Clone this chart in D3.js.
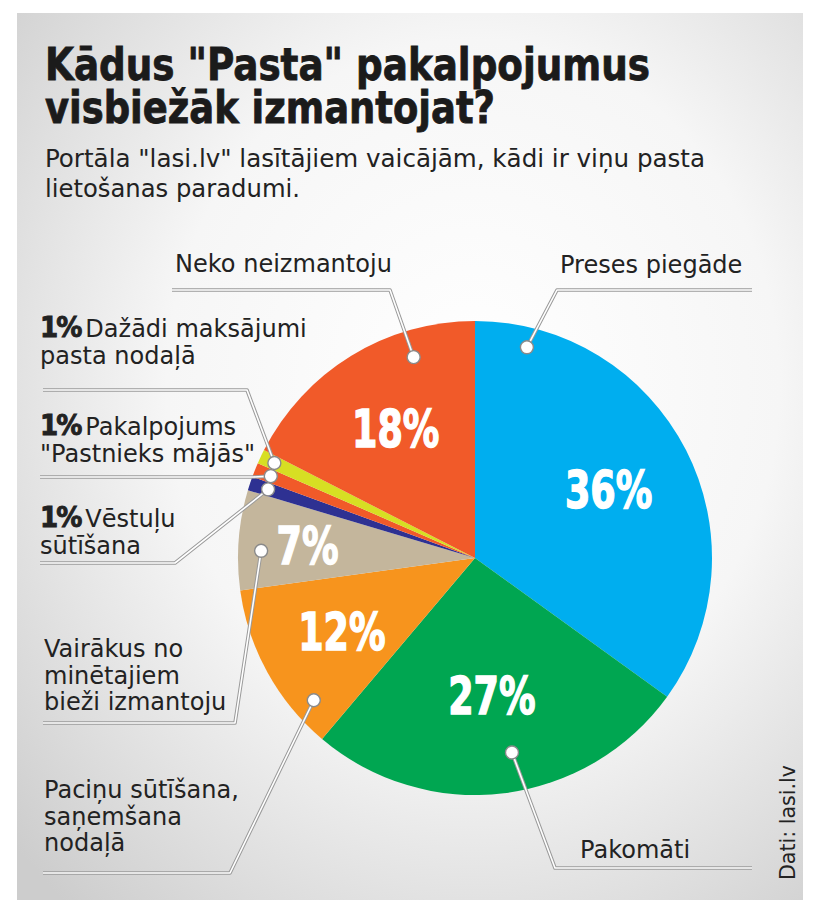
<!DOCTYPE html>
<html>
<head>
<meta charset="utf-8">
<script src="https://cdn.jsdelivr.net/npm/d3@7"></script>
<style>
  body { margin: 0; background: #fff; }
</style>
</head>
<body>
<script>
var width = 820;
var height = 913;

// data, as printed on the chart
var categories = ["Preses piegāde", "Pakomāti", "Paciņu sūtīšana, saņemšana nodaļā",
  "Vairākus no minētajiem bieži izmantoju", "Vēstuļu sūtīšana",
  "Pakalpojums \"Pastnieks mājās\"", "Dažādi maksājumi pasta nodaļā", "Neko neizmantoju"];
var values = [36, 27, 12, 7, 1, 1, 1, 18];
var labelLines = [
  ["Preses piegāde"],
  ["Pakomāti"],
  ["Paciņu sūtīšana,", "saņemšana", "nodaļā"],
  ["Vairākus no", "minētajiem", "bieži izmantoju"],
  ["Vēstuļu", "sūtīšana"],
  ["Pakalpojums", "\"Pastnieks mājās\""],
  ["Dažādi maksājumi", "pasta nodaļā"],
  ["Neko neizmantoju"]
];
var colors = ["#00aeef", "#00a651", "#f7941d", "#c4b69c", "#2e3192", "#f15a29", "#d7df23", "#f15a29"];

var title = ["Kādus \"Pasta\" pakalpojumus", "visbiežāk izmantojat?"];
var subtitle = ["Portāla \"lasi.lv\" lasītājiem vaicājām, kādi ir viņu pasta", "lietošanas paradumi."];
var source = "Dati: lasi.lv";

// layout of the callouts (where the text sits, where the leader bends)
var callouts = [
  { x: 560, y: 273, elbow: [557, 290], end: 752, at: 0.11, r: 217, lr: 150 },
  { x: 580, y: 858, elbow: [555, 868], end: 752, at: 0.46, r: 198, lr: 138 },
  { x: 44, y: 798, elbow: [230, 873], end: 43, at: 0.2, r: 215, lr: 152 },
  { x: 44, y: 657, elbow: [235, 723], end: 43, at: 0.4, r: 214, lr: 168 },
  { x: 40, y: 527, elbow: [175, 563], end: 40, at: 0.5, r: 218, lr: 0 },
  { x: 40, y: 435, elbow: [253, 477], end: 40, at: 0.5, r: 220, lr: 0 },
  { x: 40, y: 337, elbow: [247, 390], end: 43, at: 0.5, r: 222, lr: 0 },
  { x: 175, y: 272, elbow: [390, 290], end: 172, at: 0.73, r: 210, lr: 152 }
];

var cx = 475, cy = 558, radius = 237;
var condensed = "'Liberation Sans Narrow', 'DejaVu Sans Condensed', 'Arial Narrow', sans-serif";
var labelFont = "'DejaVu Sans', 'Noto Sans', sans-serif";

var svg = d3.select("body").append("svg")
  .attr("width", width).attr("height", height);

// card background
var defs = svg.append("defs");
var grad = defs.append("radialGradient").attr("id", "bg")
  .attr("cx", "58%").attr("cy", "42%").attr("r", "78%");
grad.append("stop").attr("offset", "0%").attr("stop-color", "#ffffff");
grad.append("stop").attr("offset", "50%").attr("stop-color", "#f6f6f6");
grad.append("stop").attr("offset", "100%").attr("stop-color", "#cdcdcd");

svg.append("rect")
  .attr("x", 17).attr("y", 13).attr("width", 786).attr("height", 887)
  .attr("fill", "url(#bg)");

// title and subtitle
svg.selectAll("text.title").data(title).enter().append("text")
  .attr("class", "title")
  .attr("x", 45)
  .attr("y", function (d, i) { return 80 + i * 43; })
  .attr("font-family", condensed)
  .attr("font-weight", "bold")
  .attr("font-size", 44)
  .attr("fill", "#1b1b1b")
  .attr("stroke", "#1b1b1b").attr("stroke-width", 0.8)
  .attr("textLength", function (d, i) { return i === 0 ? 605 : 450; })
  .attr("lengthAdjust", "spacingAndGlyphs")
  .text(function (d) { return d; });

svg.selectAll("text.subtitle").data(subtitle).enter().append("text")
  .attr("class", "subtitle")
  .attr("x", 45)
  .attr("y", function (d, i) { return 167 + i * 30; })
  .attr("font-family", condensed)
  .attr("font-size", 24)
  .attr("fill", "#222")
  .attr("textLength", function (d, i) { return i === 0 ? 660 : 255; })
  .attr("lengthAdjust", "spacingAndGlyphs")
  .text(function (d) { return d; });

// pie
var pie = d3.pie().sort(null).value(function (d) { return d; });
var arcs = pie(values);
var arc = d3.arc().innerRadius(0).outerRadius(radius);

var g = svg.append("g").attr("transform", "translate(" + cx + "," + cy + ")");

g.selectAll("path.slice").data(arcs).enter().append("path")
  .attr("class", "slice")
  .attr("d", arc)
  .attr("fill", function (d, i) { return colors[i]; });

// percentages inside the big slices
g.selectAll("text.pct").data(arcs.filter(function (d) { return d.value >= 5; })).enter()
  .append("text")
  .attr("class", "pct")
  .attr("transform", function (d) {
    var c = callouts[d.index];
    var p = d3.arc().innerRadius(c.lr).outerRadius(c.lr).centroid(d);
    return "translate(" + p[0] + "," + p[1] + ") scale(0.78,1)";
  })
  .attr("text-anchor", "middle")
  .attr("dy", "0.36em")
  .attr("font-family", condensed)
  .attr("font-weight", "bold")
  .attr("font-size", 52)
  .attr("fill", "#fff")
  .attr("stroke", "#fff").attr("stroke-width", 1.4)
  .text(function (d) { return d.value + "%"; });

// anchor point on a slice for its leader line
function anchor(d) {
  var c = callouts[d.index];
  var a = d.startAngle + (d.endAngle - d.startAngle) * c.at;
  return [cx + c.r * Math.sin(a), cy - c.r * Math.cos(a)];
}

var leaders = svg.append("g");
var line = d3.line();
function leaderPts(d) {
  var c = callouts[d.index];
  return [anchor(d), c.elbow, [c.end, c.elbow[1]]];
}
leaders.selectAll("path.shade").data(arcs).enter().append("path")
  .attr("d", function (d) { return line(leaderPts(d)); })
  .attr("fill", "none").attr("stroke", "#9a9a9a").attr("stroke-width", 3.6)
  .attr("stroke-linejoin", "round");
leaders.selectAll("path.hi").data(arcs).enter().append("path")
  .attr("d", function (d) { return line(leaderPts(d)); })
  .attr("fill", "none").attr("stroke", "#ffffff").attr("stroke-width", 1.6)
  .attr("stroke-linejoin", "round");
leaders.selectAll("circle").data(arcs).enter().append("circle")
  .attr("cx", function (d) { return anchor(d)[0]; })
  .attr("cy", function (d) { return anchor(d)[1]; })
  .attr("r", 6.5)
  .attr("fill", "#fff").attr("stroke", "#8a8a8a").attr("stroke-width", 1.4);

// category labels
var labels = svg.append("g");
var lineH = 26.5;
var labelSize = 22;

var probe = labels.append("text").attr("font-family", labelFont)
  .attr("font-size", labelSize).text(labelLines[7][0]);
labelSize = labelSize * 217 / probe.node().getComputedTextLength();
probe.remove();

arcs.forEach(function (d) {
  var c = callouts[d.index];
  var t = labels.append("text")
    .attr("font-family", labelFont)
    .attr("font-size", labelSize)
    .attr("fill", "#222");
  labelLines[d.index].forEach(function (s, j) {
    var ts = t.append("tspan").attr("x", c.x).attr("y", c.y + j * lineH);
    if (j === 0 && d.value < 5) {
      ts.append("tspan")
        .attr("font-family", condensed)
        .attr("font-weight", "bold")
        .attr("font-size", 29)
        .attr("stroke", "#222").attr("stroke-width", 0.9)
        .attr("letter-spacing", -2)
        .text(d.value + "%");
      ts.append("tspan").attr("dx", 5).text(s);
    } else {
      ts.text(s);
    }
  });
});

// source
svg.append("text")
  .attr("transform", "translate(795,880) rotate(-90)")
  .attr("font-family", condensed)
  .attr("font-size", 21)
  .attr("fill", "#222")
  .attr("textLength", 115)
  .attr("lengthAdjust", "spacingAndGlyphs")
  .text(source);
</script>
</body>
</html>
